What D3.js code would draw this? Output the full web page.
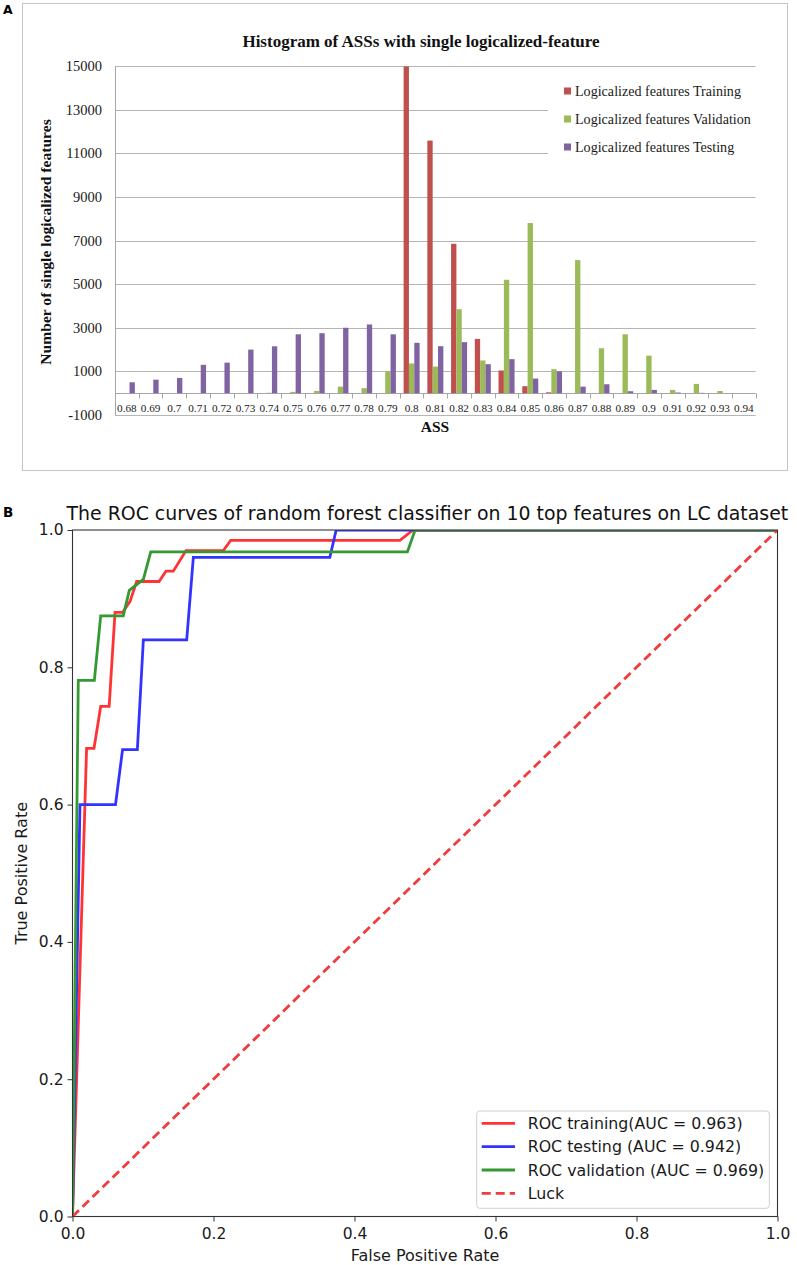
<!DOCTYPE html>
<html>
<head>
<meta charset="utf-8">
<script src="https://cdn.jsdelivr.net/npm/d3@7"></script>
<style>
  html, body { margin: 0; padding: 0; background: #fff; }
  svg { display: block; }
</style>
</head>
<body>
<script>
// ---------------- Panel A data ----------------
const hCategories = ["0.68","0.69","0.7","0.71","0.72","0.73","0.74","0.75","0.76","0.77","0.78","0.79",
  "0.8","0.81","0.82","0.83","0.84","0.85","0.86","0.87","0.88","0.89","0.9","0.91","0.92","0.93","0.94"];
const hSeries = ["Logicalized features Training", "Logicalized features Validation", "Logicalized features Testing"];
const hTraining   = [0,0,0,0,0,0,0,0,0,0,0,0, 14980,11580,6850,2490,1040,320,40, 0,0,0,0,0,0,0,0];
const hValidation = [0,0,0,0,0,0,20,60,100,300,230,1000, 1360,1220,3850,1500,5200,7800,1100,6100,2060,2700,1720,150,425,100,0];
const hTesting    = [500,620,700,1300,1400,2000,2150,2700,2750,3000,3150,2700, 2310,2155,2340,1330,1560,670,1000,300,410,90,150,30,15,0,0];
const hYTicks = [-1000,1000,3000,5000,7000,9000,11000,13000,15000];
const hColors = ["#c0504d", "#9bbb59", "#8064a2"];

// ---------------- Panel B data ----------------
const rocTrainingFpr = [0, 0.020, 0.0305, 0.040, 0.052, 0.0603, 0.0712, 0.0816, 0.091, 0.1227, 0.1326, 0.143, 0.161, 0.214, 0.2244, 0.4645, 0.483, 1];
const rocTrainingTpr = [0, 0.682, 0.682, 0.743, 0.743, 0.880, 0.880, 0.896, 0.925, 0.925, 0.940, 0.940, 0.970, 0.970, 0.985, 0.985, 1.0, 1.0];
const rocTestingFpr = [0, 0.0106, 0.061, 0.071, 0.092, 0.1005, 0.162, 0.1714, 0.365, 0.374, 1];
const rocTestingTpr = [0, 0.600, 0.600, 0.680, 0.680, 0.840, 0.840, 0.960, 0.960, 1.0, 1.0];
const rocValidationFpr = [0, 0.0082, 0.031, 0.040, 0.072, 0.0806, 0.1005, 0.111, 0.475, 0.486, 1];
const rocValidationTpr = [0, 0.781, 0.781, 0.875, 0.875, 0.912, 0.928, 0.968, 0.968, 1.0, 1.0];
const luckFpr = [0, 1];
const luckTpr = [0, 1];
const rocLabels = ["ROC training(AUC = 0.963)", "ROC testing (AUC = 0.942)", "ROC validation (AUC = 0.969)", "Luck"];
const rocTicks = [0, 0.2, 0.4, 0.6, 0.8, 1.0];

const W = 797, H = 1265;
const svg = d3.select("body").append("svg").attr("width", W).attr("height", H)
  .style("background", "#fff");

// =============== Panel A ===============
const serif = "'Liberation Serif', 'Times New Roman', serif";
svg.append("rect").attr("x", 22.5).attr("y", 3.5).attr("width", 765).attr("height", 467)
  .attr("fill", "none").attr("stroke", "#c4c4c4").attr("stroke-width", 1);
svg.append("text").attr("x", 3).attr("y", 13.5).text("A")
  .attr("font-family", "'DejaVu Sans', sans-serif").attr("font-weight", "bold").attr("font-size", 12.5);

const hx = d3.scaleBand().domain(hCategories).range([115, 755.7]).padding(0);
const hx1 = d3.scaleBand().domain(hSeries).range([hx.bandwidth() * 0.1625, hx.bandwidth() * 0.8375]).padding(0);
const hy = d3.scaleLinear().domain([-1000, 15000]).range([415, 66]);

const gA = svg.append("g");
// gridlines
gA.selectAll("line.grid").data(hYTicks).join("line").attr("class", "grid")
  .attr("x1", 115).attr("x2", 755.7)
  .attr("y1", d => Math.round(hy(d)) + 0.5).attr("y2", d => Math.round(hy(d)) + 0.5)
  .attr("stroke", "#b5b5b5").attr("stroke-width", 1);
// y tick labels
gA.selectAll("text.ytick").data(hYTicks).join("text").attr("class", "ytick")
  .attr("x", 102).attr("y", d => hy(d) + 5).attr("text-anchor", "end")
  .attr("font-family", serif).attr("font-size", 14.5).attr("fill", "#1a1a1a")
  .text(d => d);
// y axis line
gA.append("line").attr("x1", 115.5).attr("x2", 115.5).attr("y1", hy(15000)).attr("y2", hy(-1000))
  .attr("stroke", "#a6a6a6");
// zero axis with tick marks
const y0 = Math.round(hy(0)) + 0.5;
gA.append("line").attr("x1", 115).attr("x2", 755.7).attr("y1", y0).attr("y2", y0).attr("stroke", "#a6a6a6");
const tickPos = hCategories.map(c => hx(c)).concat([hx.range()[1]]);
gA.selectAll("line.xt").data(tickPos).join("line").attr("class", "xt")
  .attr("x1", d => Math.round(d) + 0.5).attr("x2", d => Math.round(d) + 0.5)
  .attr("y1", y0).attr("y2", y0 + 5).attr("stroke", "#a6a6a6");
// x labels
gA.selectAll("text.xl").data(hCategories).join("text").attr("class", "xl")
  .attr("x", d => hx(d) + hx.bandwidth() / 2).attr("y", 411.5)
  .attr("text-anchor", "middle").attr("font-family", serif).attr("font-size", 11.2).attr("fill", "#1a1a1a")
  .text(d => d);

// legend background (hides gridlines)
gA.append("rect").attr("x", 548).attr("y", 73).attr("width", 212).attr("height", 94).attr("fill", "#fff");

// bars
const hValues = [hTraining, hValidation, hTesting];
hSeries.forEach((s, si) => {
  gA.append("g").selectAll("rect").data(hCategories.map((c, i) => ({ c, v: hValues[si][i] })))
    .join("rect")
    .attr("x", d => hx(d.c) + hx1(s))
    .attr("width", hx1.bandwidth())
    .attr("y", d => Math.min(hy(d.v), hy(0)))
    .attr("height", d => Math.abs(hy(0) - hy(d.v)))
    .attr("fill", hColors[si]);
});

// legend
const legA = gA.append("g");
[91, 119, 147].forEach((yy, i) => {
  legA.append("rect").attr("x", 564).attr("y", yy - 3.5).attr("width", 7).attr("height", 7).attr("fill", hColors[i]);
  legA.append("text").attr("x", 575).attr("y", yy + 4.8).text(hSeries[i])
    .attr("font-family", serif).attr("font-size", 14.1).attr("fill", "#1a1a1a");
});

// titles
gA.append("text").attr("x", 421).attr("y", 46.5).attr("text-anchor", "middle")
  .attr("font-family", serif).attr("font-weight", "bold").attr("font-size", 17).attr("fill", "#111")
  .text("Histogram of ASSs with single logicalized-feature");
gA.append("text").attr("x", 435).attr("y", 432).attr("text-anchor", "middle")
  .attr("font-family", serif).attr("font-weight", "bold").attr("font-size", 15.5).attr("fill", "#111")
  .text("ASS");
gA.append("text").attr("transform", "translate(50.5,242) rotate(-90)").attr("text-anchor", "middle")
  .attr("font-family", serif).attr("font-weight", "bold").attr("font-size", 15.6).attr("fill", "#111")
  .text("Number of single logicalized features");

// =============== Panel B ===============
const sans = "'DejaVu Sans', sans-serif";
svg.append("text").attr("x", 3).attr("y", 517).text("B")
  .attr("font-family", sans).attr("font-weight", "bold").attr("font-size", 13.5);

const L = 72.5, R = 777.5, T = 530, B = 1216.5;
const rx = d3.scaleLinear().domain([0, 1]).range([L, R]);
const ry = d3.scaleLinear().domain([0, 1]).range([B, T]);
const gB = svg.append("g");

svg.append("defs").append("clipPath").attr("id", "plotclip")
  .append("rect").attr("x", L).attr("y", T).attr("width", R - L).attr("height", B - T);

const line = d3.line().x(d => rx(d[0])).y(d => ry(d[1]));
const zip = (a, b) => a.map((v, i) => [v, b[i]]);
const curves = [
  { pts: zip(rocTrainingFpr, rocTrainingTpr), color: "#ff3333", dash: null },
  { pts: zip(rocTestingFpr, rocTestingTpr), color: "#3333ff", dash: null },
  { pts: zip(rocValidationFpr, rocValidationTpr), color: "#339933", dash: null },
  { pts: zip(luckFpr, luckTpr), color: "#f03c3c", dash: "9,5" }
];
const plotG = gB.append("g").attr("clip-path", "url(#plotclip)");
curves.forEach(c => {
  plotG.append("path").attr("d", line(c.pts)).attr("fill", "none")
    .attr("stroke", c.color).attr("stroke-width", 2.8)
    .attr("stroke-dasharray", c.dash).attr("stroke-linejoin", "miter");
});

// axes
const xAxis = d3.axisBottom(rx).tickValues(rocTicks).tickFormat(d3.format(".1f")).tickSize(5).tickPadding(4);
const yAxis = d3.axisLeft(ry).tickValues(rocTicks).tickFormat(d3.format(".1f")).tickSize(5).tickPadding(4);
const gx = gB.append("g").attr("transform", `translate(0,${B})`).call(xAxis);
const gy = gB.append("g").attr("transform", `translate(${L},0)`).call(yAxis);
[gx, gy].forEach(g => {
  g.select(".domain").remove();
  g.selectAll(".tick line").attr("stroke", "#333").attr("stroke-width", 1);
  g.selectAll(".tick text").attr("font-family", sans).attr("font-size", 15.5).attr("fill", "#1a1a1a");
});
gx.selectAll(".tick text").attr("dy", "0.9em");
// spines
gB.append("rect").attr("x", L).attr("y", T).attr("width", R - L).attr("height", B - T)
  .attr("fill", "none").attr("stroke", "#333").attr("stroke-width", 1.1);

// labels
gB.append("text").attr("x", 66.5).attr("y", 520).text("The ROC curves of random forest classifier on 10 top features on LC dataset")
  .attr("font-family", sans).attr("font-size", 18.9).attr("fill", "#111");
gB.append("text").attr("x", (L + R) / 2).attr("y", 1261).attr("text-anchor", "middle")
  .attr("font-family", sans).attr("font-size", 16).attr("fill", "#1a1a1a").text("False Positive Rate");
gB.append("text").attr("transform", `translate(27,${(T + B) / 2}) rotate(-90)`).attr("text-anchor", "middle")
  .attr("font-family", sans).attr("font-size", 16).attr("fill", "#1a1a1a").text("True Positive Rate");

// legend
const lg = gB.append("g");
lg.append("rect").attr("x", 476.7).attr("y", 1111).attr("width", 292.6).attr("height", 97.3).attr("rx", 3)
  .attr("fill", "#fff").attr("fill-opacity", 0.8).attr("stroke", "#d0d0d0");
[1123.3, 1146.7, 1170, 1193.3].forEach((yy, i) => {
  lg.append("line").attr("x1", 481.7).attr("x2", 515).attr("y1", yy).attr("y2", yy)
    .attr("stroke", curves[i].color).attr("stroke-width", 2.8).attr("stroke-dasharray", curves[i].dash);
  lg.append("text").attr("x", 527.7).attr("y", yy + 5.6).text(rocLabels[i])
    .attr("font-family", sans).attr("font-size", 15.8).attr("fill", "#1a1a1a");
});
</script>
</body>
</html>
